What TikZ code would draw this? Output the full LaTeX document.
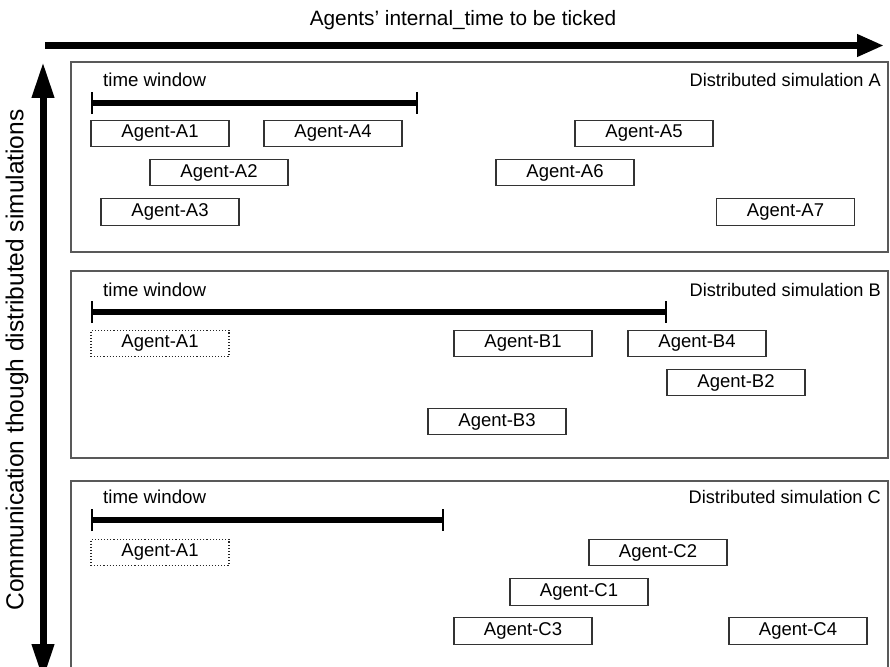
\documentclass[tikz,border=0pt]{standalone}
\usepackage{fontspec}
\setmainfont{Liberation Sans}
\usetikzlibrary{arrows.meta}

\tikzset{
  panel/.style={draw=black!65, line width=1.2pt},
  agent/.style={draw=black!80, line width=1.1pt, minimum width=138pt, minimum height=26.5pt,
                inner sep=0pt, font=\fontsize{18.5}{21}\selectfont},
  ghost/.style={agent, draw=black!85, dotted, line width=1.1pt},
  winlabel/.style={anchor=west, inner sep=0pt, font=\fontsize{18.7}{21}\selectfont},
  simlabel/.style={anchor=east, inner sep=0pt, font=\fontsize{18.2}{21}\selectfont},
  window/.style={line width=6pt, {Bar[width=22pt,line width=2pt]}-{Bar[width=22pt,line width=2pt]}, shorten <=-1pt, shorten >=-1pt},
  axis/.style={line width=7pt},
}

\begin{document}
\begin{tikzpicture}[x=1pt, y=-1pt]
  \useasboundingbox (0,0) rectangle (890,666);

  % axes
  \node[inner sep=0pt, font=\fontsize{20.8}{24}\selectfont] (xlabel) at (463,20) {Agents’ internal\_time to be ticked};
  \coordinate (xs) at (45,45.5);
  \coordinate (xe) at (884,45.5);
  \draw[axis, -{Triangle[length=27pt,width=21pt]}] (xs) -- (xe);

  \coordinate (ys) at (43,62);
  \coordinate (ye) at (43,680);
  \draw[axis, {Triangle[length=36pt,width=21pt]}-{Triangle[length=36pt,width=21pt]}] (ys) -- (ye);
  \node[rotate=90, inner sep=0pt, font=\fontsize{24.5}{28}\selectfont] (ylabel) at (17,360) {Communication though distributed simulations};

  % panel A
  \draw[panel] (71,62) rectangle (888,252);
  \node[winlabel] (twA) at (103,80) {time window};
  \node[simlabel] (simA) at (881,80) {Distributed simulation A};
  \coordinate (wAs) at (92,103);
  \coordinate (wAe) at (417,103);
  \draw[window] (wAs) -- (wAe);
  \node[agent] (A1) at (160,133.5) {Agent-A1};
  \node[agent] (A4) at (333,133.5) {Agent-A4};
  \node[agent] (A5) at (644,133.5) {Agent-A5};
  \node[agent] (A2) at (219,172.5) {Agent-A2};
  \node[agent] (A6) at (565,172.5) {Agent-A6};
  \node[agent] (A3) at (170,212) {Agent-A3};
  \node[agent] (A7) at (785.5,212) {Agent-A7};

  % panel B
  \draw[panel] (71,271) rectangle (888,458);
  \node[winlabel] (twB) at (103,290) {time window};
  \node[simlabel] (simB) at (881,290) {Distributed simulation B};
  \coordinate (wBs) at (92,312);
  \coordinate (wBe) at (666,312);
  \draw[window] (wBs) -- (wBe);
  \node[ghost] (BA1) at (160,343.5) {Agent-A1};
  \node[agent] (B1) at (523,343.5) {Agent-B1};
  \node[agent] (B4) at (697,343.5) {Agent-B4};
  \node[agent] (B2) at (736,382.5) {Agent-B2};
  \node[agent] (B3) at (497,421.5) {Agent-B3};

  % panel C
  \draw[panel] (71,481) rectangle (888,690);
  \node[winlabel] (twC) at (103,497) {time window};
  \node[simlabel] (simC) at (881,497) {Distributed simulation C};
  \coordinate (wCs) at (92,520);
  \coordinate (wCe) at (443,520);
  \draw[window] (wCs) -- (wCe);
  \node[ghost] (CA1) at (160,552.5) {Agent-A1};
  \node[agent] (C2) at (658,552.5) {Agent-C2};
  \node[agent] (C1) at (579,592) {Agent-C1};
  \node[agent] (C3) at (523,631) {Agent-C3};
  \node[agent] (C4) at (798,631) {Agent-C4};
\end{tikzpicture}
\end{document}
